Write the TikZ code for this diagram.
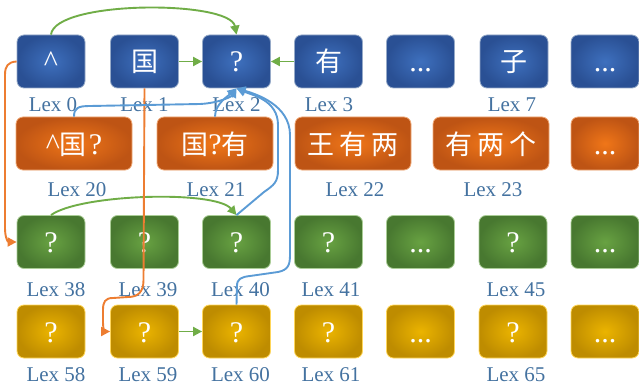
\documentclass[tikz,border=0pt]{standalone}
\usepackage{fontspec}
\setmainfont{Liberation Serif}
\newfontfamily\cjk{Noto Sans CJK SC}
\usetikzlibrary{arrows.meta}
\definecolor{lexblue}{RGB}{68,114,160}
\definecolor{conGreen}{RGB}{112,173,71}
\definecolor{conOrange}{RGB}{237,125,49}
\definecolor{conBlue}{RGB}{91,155,213}
\definecolor{bIn}{RGB}{62,112,190}
\definecolor{bOut}{RGB}{42,80,148}
\definecolor{bLine}{RGB}{150,170,200}
\definecolor{oIn}{RGB}{240,118,24}
\definecolor{oOut}{RGB}{190,84,20}
\definecolor{oLine}{RGB}{240,170,120}
\definecolor{gIn}{RGB}{104,162,66}
\definecolor{gOut}{RGB}{72,120,48}
\definecolor{gLine}{RGB}{170,205,150}
\definecolor{yIn}{RGB}{235,180,0}
\definecolor{yOut}{RGB}{190,140,0}
\definecolor{yLine}{RGB}{255,214,90}
\newcommand{\zh}[1]{{\cjk\fontsize{27}{27}\selectfont #1}}
\tikzset{
  box/.style={rounded corners=7pt, minimum width=68pt, minimum height=53pt,
    inner sep=0pt, line width=0.8pt, text=white,
    font=\fontsize{30}{30}\selectfont, text height=21pt, text depth=0pt},
  widebox/.style={minimum width=116pt},
  bbox/.style={box, shade, inner color=bIn, outer color=bOut, draw=bLine},
  obox/.style={box, shade, inner color=oIn, outer color=oOut, draw=oLine},
  gbox/.style={box, shade, inner color=gIn, outer color=gOut, draw=gLine},
  ybox/.style={box, shade, inner color=yIn, outer color=yOut, draw=yLine},
  lbl/.style={anchor=base, text=lexblue, font=\fontsize{21}{21}\selectfont, inner sep=0pt},
  con/.style={line width=1.9pt, -{Triangle[length=9pt,width=9pt]}},
}
\begin{document}
\begin{tikzpicture}[x=1pt, y=-1pt]
\useasboundingbox (0,0) rectangle (639,385);
% row 1
\node[bbox] (b0) at (51,61.5) {\textasciicircum};
\node[bbox] (b1) at (144.5,61.5) {\zh{国}};
\node[bbox] (b2) at (236.5,61.5) {?};
\node[bbox] (b3) at (328.5,61.5) {\zh{有}};
\node[bbox] (b4) at (420.5,61.5) {...};
\node[bbox] (b5) at (514,61.5) {\zh{子}};
\node[bbox] (b6) at (605,61.5) {...};
% row 2
\node[obox, widebox] (o20) at (74,143.5) {\textasciicircum\zh{国}\hspace{2pt}?};
\node[obox, widebox] (o21) at (215,143.5) {\zh{国}?\zh{有}};
\node[obox, widebox] (o22) at (353,143.5) {\zh{王\hspace{5pt}有\hspace{5pt}两}};
\node[obox, widebox] (o23) at (491,143.5) {\zh{有\hspace{5pt}两\hspace{5pt}个}};
\node[obox] (o24) at (605,143.5) {...};
% row 3
\node[gbox] (g38) at (51,242) {?};
\node[gbox] (g39) at (144.5,242) {?};
\node[gbox] (g40) at (236.5,242) {?};
\node[gbox] (g41) at (328.5,242) {?};
\node[gbox] (g42) at (420.5,242) {...};
\node[gbox] (g45) at (513,242) {?};
\node[gbox] (g46) at (605,242) {...};
% row 4
\node[ybox] (y58) at (51,331.5) {?};
\node[ybox] (y59) at (144.5,331.5) {?};
\node[ybox] (y60) at (236.5,331.5) {?};
\node[ybox] (y61) at (328.5,331.5) {?};
\node[ybox] (y62) at (420.5,331.5) {...};
\node[ybox] (y65) at (513,331.5) {?};
\node[ybox] (y66) at (605,331.5) {...};
% labels
\node[lbl] (l0) at (53,111) {Lex 0};
\node[lbl] (l1) at (144.5,111) {Lex 1};
\node[lbl] (l2) at (236.5,111) {Lex 2};
\node[lbl] (l3) at (329,111) {Lex 3};
\node[lbl] (l7) at (512,111) {Lex 7};
\node[lbl] (l20) at (77,196) {Lex 20};
\node[lbl] (l21) at (216,196) {Lex 21};
\node[lbl] (l22) at (355,196) {Lex 22};
\node[lbl] (l23) at (493,196) {Lex 23};
\node[lbl] (l38) at (56,296) {Lex 38};
\node[lbl] (l39) at (148,296) {Lex 39};
\node[lbl] (l40) at (240.5,296) {Lex 40};
\node[lbl] (l41) at (331,296) {Lex 41};
\node[lbl] (l45) at (516,296) {Lex 45};
\node[lbl] (l58) at (56,381) {Lex 58};
\node[lbl] (l59) at (148,381) {Lex 59};
\node[lbl] (l60) at (240.5,381) {Lex 60};
\node[lbl] (l61) at (331,381) {Lex 61};
\node[lbl] (l65) at (516,381) {Lex 65};
% green connectors
\draw[con, conGreen] (b0.north) .. controls (55,0) and (230,0) .. (b2.north);
\draw[con, conGreen] (b1.east) -- (b2.west);
\draw[con, conGreen] (b3.west) -- (b2.east);
\draw[con, conGreen] (g38.north) .. controls (80,194) and (215,190) .. (g40.north);
\draw[con, conGreen] (y59.east) -- (y60.west);
% orange connectors
\draw[con, conOrange] (b0.west) .. controls (8,62) and (5,66) .. (5,75) -- (5,228)
  .. controls (5,238) and (8,242) .. (g38.west);
\draw[con, conOrange] (b1.south) -- (143.5,280) .. controls (143.5,292) and (138,297) .. (128,297)
  -- (113,298) .. controls (105,298) and (103,302) .. (103,310) -- (103,322)
  .. controls (103,329) and (105,331.5) .. (y59.west);
% blue connectors
\draw[con, conBlue] (o20.north) .. controls (74,108) and (78,106) .. (90,106) -- (200,104)
  .. controls (220,103) and (232,96) .. (b2.south);
\draw[con, conBlue] (o21.north) .. controls (215,104) and (228,96) .. (b2.south);
\draw[con, conBlue] (g40.north) -- (264,192) .. controls (274,185) and (278,182) .. (278,170)
  -- (278,125) .. controls (278,100) and (252,95) .. (b2.south);
\draw[con, conBlue] (y60.north) -- (237,286) .. controls (237,279) and (241,277) .. (250,276)
  -- (278,272) .. controls (288,270) and (290,265) .. (290,255) -- (290,135)
  .. controls (290,105) and (256,94) .. (b2.south);
\end{tikzpicture}
\end{document}
